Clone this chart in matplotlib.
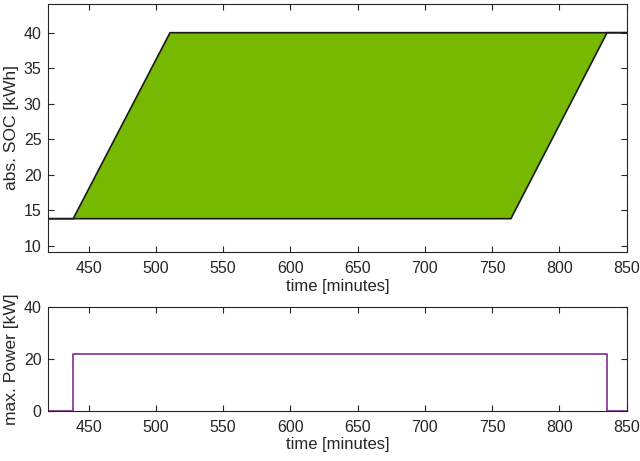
import matplotlib.pyplot as plt

plt.rcParams['font.family'] = ['Liberation Sans', 'DejaVu Sans']

# upper SOC bound (earliest charging) and lower bound (latest charging)
t_upper = [420, 438.5, 510.5, 850]
soc_upper = [13.8, 13.8, 40, 40]
t_lower = [420, 764, 835.5, 850]
soc_lower = [13.8, 13.8, 40, 40]

# max charging power
t_power = [420, 438.5, 438.5, 835.5, 835.5, 850]
power = [0, 0, 22, 22, 0, 0]

green = '#77b800'
purple = '#7e2f8e'
axcol = '#262626'

fig = plt.figure(figsize=(6.4, 4.61), dpi=100)
ax1 = fig.add_axes([0.0755, 0.454, 0.9035, 0.5367])
ax2 = fig.add_axes([0.0755, 0.109, 0.9035, 0.2256])

# filled area between the bounds
ax1.fill(t_upper[1:3] + t_lower[2:0:-1], soc_upper[1:3] + soc_lower[2:0:-1],
         color=green, lw=0)
ax1.plot(t_upper, soc_upper, color='#1a1a1a', lw=1.2)
ax1.plot(t_lower, soc_lower, color='#1a1a1a', lw=1.2)
ax1.set_xlim(420, 850)
ax1.set_ylim(9.15, 44)
ax1.set_yticks([10, 15, 20, 25, 30, 35, 40])
ax1.set_ylabel('abs. SOC [kWh]', labelpad=3)
ax1.set_xlabel('time [minutes]', labelpad=2)

ax2.plot(t_power, power, color=purple, lw=1.2)
ax2.set_xlim(420, 850)
ax2.set_ylim(0, 40)
ax2.set_yticks([0, 20, 40])
ax2.set_ylabel('max. Power [kW]', labelpad=3)
ax2.set_xlabel('time [minutes]', labelpad=1)

for ax in (ax1, ax2):
    ax.set_xticks([450, 500, 550, 600, 650, 700, 750, 800, 850])
    ax.tick_params(direction='in', top=True, right=True, length=4,
                   width=0.8, colors=axcol, labelsize=11.5)
    ax.tick_params(axis='x', pad=7)
    ax.tick_params(axis='y', pad=5)
    ax.xaxis.label.set_color(axcol)
    ax.yaxis.label.set_color(axcol)
    ax.xaxis.label.set_size(12)
    ax.yaxis.label.set_size(12.5)
    for s in ax.spines.values():
        s.set_color(axcol)
        s.set_linewidth(0.8)

fig.savefig('out.png', dpi=100)
